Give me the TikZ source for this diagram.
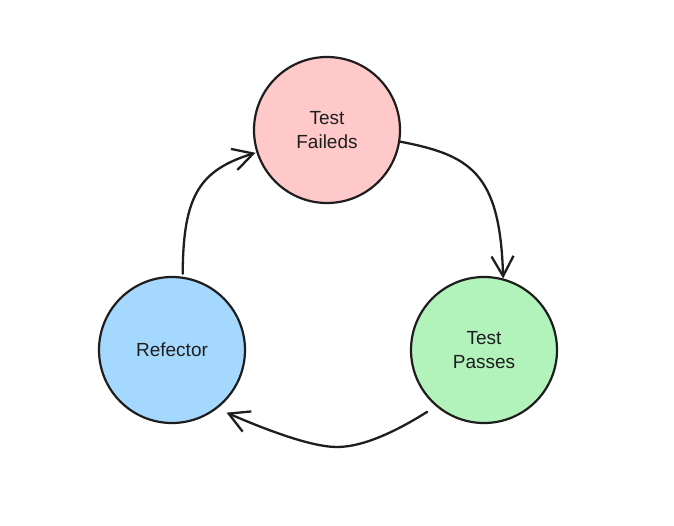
\documentclass[tikz,border=0pt]{standalone}
\usepackage{fontspec}
\setmainfont{Liberation Sans}
\usetikzlibrary{arrows.meta,calc}
\definecolor{ink}{HTML}{1E1E1E}
\definecolor{pinkfill}{HTML}{FFC9C9}
\definecolor{greenfill}{HTML}{B2F2BB}
\definecolor{bluefill}{HTML}{A5D8FF}
\tikzset{
  stage/.style={circle, draw=ink, line width=2.2pt, minimum size=146pt, inner sep=0pt, outer sep=0pt,
    text=ink, font=\fontsize{19}{24}\selectfont, align=center},
  flow/.style={draw=ink, line width=2.3pt, line cap=round, line join=round,
    -{Straight Barb[length=20pt,width=22pt,line width=2.3pt]}}
}
\begin{document}
\begin{tikzpicture}[x=1pt,y=-1pt]
\useasboundingbox (0,0) rectangle (674,525);
\node[stage, fill=pinkfill] (fail) at (327,130) {Test\\Faileds};
\node[stage, fill=greenfill] (pass) at (484,350) {Test\\Passes};
\node[stage, fill=bluefill] (refac) at (172,350) {Refector};
% Test Failed -> Test Passes
\draw[flow] (fail.-9) .. controls (470,155) and (500,172) .. ($(pass)+(75:74pt)$);
% Test Passes -> Refector
\coordinate (low) at (337,447);
\draw[flow] ($(pass)+(227.4:84pt)$) .. controls (400,429) and (365,447) .. (low)
  .. controls (310,447) and (262,428) .. ($(refac)+(-49:83pt)$);
% Refector -> Test Failed
\draw[flow] ($(refac)+(82:77pt)$) .. controls (183,195) and (200,170) .. ($(fail)+(197.7:75pt)$);
\end{tikzpicture}
\end{document}
